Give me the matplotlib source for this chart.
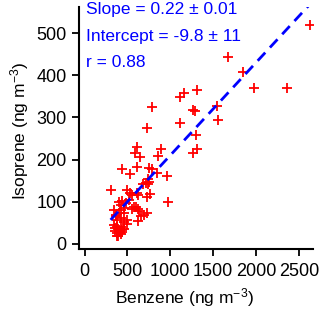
import numpy as np
import matplotlib.pyplot as plt

plt.rcParams['font.family'] = ['Liberation Sans', 'DejaVu Sans']
plt.rcParams['mathtext.fontset'] = 'custom'
plt.rcParams['mathtext.rm'] = 'Liberation Sans'
plt.rcParams['mathtext.it'] = 'Liberation Sans'
plt.rcParams['mathtext.default'] = 'regular'

# benzene vs isoprene (ng m-3)
benzene = [2624, 1667, 1842, 1978, 2360, 1308, 1160, 1114, 790, 1270, 1285, 1550,
           1561, 724, 1114, 1297, 607, 888, 1316, 1269, 584, 642, 857, 607,
           440, 526, 752, 791, 849, 966, 740, 685, 740, 304, 491, 530,
           557, 623, 763, 724, 974, 401, 440, 479, 518, 576, 557, 623,
           732, 693, 654, 627, 343, 421, 459, 362, 429, 499, 382, 499,
           343, 350, 401, 440, 382, 413, 421, 374, 713, 751, 615, 596,
           634, 362, 401, 459, 459, 421, 380, 420, 395, 440, 360, 460]
isoprene = [519, 444, 407, 369, 370, 365, 359, 348, 325, 318, 315, 328,
            294, 276, 286, 258, 231, 225, 225, 216, 216, 205, 209, 183,
            177, 165, 181, 178, 169, 162, 153, 142, 142, 128, 128, 120,
            116, 116, 118, 111, 100, 100, 102, 98, 104, 87, 82, 83,
            74, 69, 66, 55, 81, 81, 74, 66, 62, 57, 57, 47,
            45, 37, 33, 33, 25, 29, 24, 19, 144, 148, 120, 88,
            77, 69, 73, 53, 85, 92, 40, 40, 20, 28, 30, 35]

slope = 0.22
slope_err = 0.01
intercept = -9.8
intercept_err = 11
r_value = 0.88

fig = plt.figure(figsize=(3.2, 3.14), dpi=100)
ax = fig.add_axes([0.247, 0.207, 0.731, 0.771])

ax.plot(benzene, isoprene, '+', color='red', markersize=7, markeredgewidth=1.3,
        linestyle='none')

xfit = np.array([min(benzene), max(benzene)])
ax.plot(xfit, slope * xfit + intercept, color='blue', linestyle=(0, (4, 2.5)),
        linewidth=2)

ax.set_xlim(-64, 2663)
ax.set_ylim(-12, 562)
ax.set_xticks([0, 500, 1000, 1500, 2000, 2500])
ax.set_yticks([0, 100, 200, 300, 400, 500])

for s in ['top', 'right']:
    ax.spines[s].set_visible(False)
for s in ['left', 'bottom']:
    ax.spines[s].set_linewidth(1.5)
ax.tick_params(direction='out', length=5, width=1.3, labelsize=13)
ax.tick_params(axis='x', pad=5)
ax.tick_params(axis='y', pad=4)

ax.set_xlabel('Benzene (ng m$^{-3}$)', fontsize=12.5)
ax.set_ylabel('Isoprene (ng m$^{-3}$)', fontsize=12.5)
ax.xaxis.set_label_coords(0.453, -0.155)
ax.yaxis.set_label_coords(-0.205, 0.488)

txt = ['Slope = %.2f \u00b1 %.2f' % (slope, slope_err),
       'Intercept = %.1f \u00b1 %d' % (intercept, intercept_err),
       'r = %.2f' % r_value]
for i, t in enumerate(txt):
    ax.text(0.03, 0.988 - i * 0.109, t, transform=ax.transAxes, color='blue',
            fontsize=12.5, va='center', ha='left')

fig.savefig('out.png', dpi=100)
